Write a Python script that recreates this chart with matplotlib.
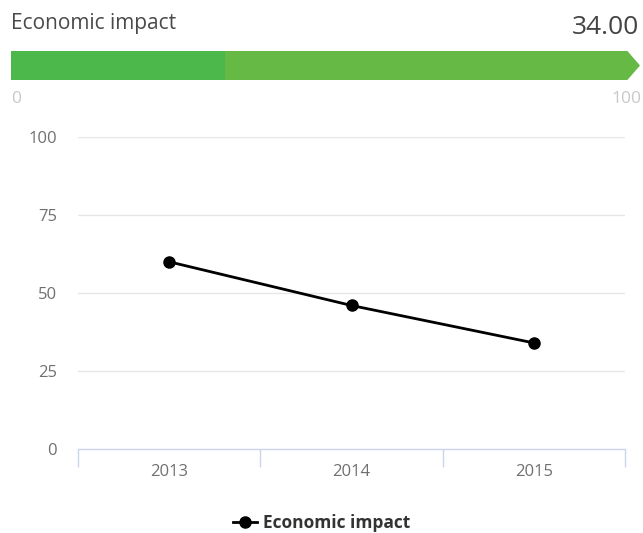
import numpy as np
import matplotlib.pyplot as plt
from matplotlib.patches import Polygon, Rectangle

plt.rcParams['font.family'] = ['Open Sans', 'DejaVu Sans']

# Gauge values
gauge_title = 'Economic impact'
gauge_value = 34.00
gauge_min, gauge_max = 0, 100

# Line series
years = ['2013', '2014', '2015']
impact = [60, 46, 34]
y_ticks = [0, 25, 50, 75, 100]

W, H = 643, 533
fig = plt.figure(figsize=(W / 100, H / 100), dpi=100)


def px_axes(x0, y0, x1, y1):
    # axes from pixel box (top-left origin)
    return fig.add_axes([x0 / W, 1 - y1 / H, (x1 - x0) / W, (y1 - y0) / H])


# --- gauge bar ---
gx = px_axes(11, 51, 640, 80)
gx.set_xlim(gauge_min, gauge_max)
gx.set_ylim(0, 1)
gx.axis('off')
tip = 2.0  # arrow head length in data units
gx.add_patch(Polygon([(gauge_value, 0), (gauge_max - tip, 0), (gauge_max, 0.5),
                      (gauge_max - tip, 1), (gauge_value, 1)],
                     closed=True, facecolor='#67b946', edgecolor='none'))
gx.add_patch(Rectangle((gauge_min, 0), gauge_value - gauge_min, 1,
                       facecolor='#4cb74a', edgecolor='none'))

fig.text(11 / W, 1 - 23 / H, gauge_title, fontsize=15, color='#4a4a4a',
         ha='left', va='center')
fig.text(639 / W, 1 - 28 / H, f'{gauge_value:.2f}', fontsize=19, color='#444444',
         ha='right', va='center')
fig.text(11 / W, 1 - 99 / H, str(gauge_min), fontsize=12.5, color='#c8c8c8',
         ha='left', va='center')
fig.text(641 / W, 1 - 99 / H, str(gauge_max), fontsize=12.5, color='#c8c8c8',
         ha='right', va='center')

# --- line chart ---
ax = px_axes(78, 137, 625, 449)
x = np.arange(len(years))
ax.plot(x, impact, color='black', linewidth=2, marker='o', markersize=8,
        label='Economic impact', zorder=3, clip_on=False)
ax.set_xlim(-0.5, len(years) - 0.5)
ax.set_ylim(y_ticks[0], y_ticks[-1])

for v in y_ticks[1:]:
    ax.axhline(v, color='#e6e6e6', linewidth=1, zorder=1)

for s in ['top', 'left', 'right']:
    ax.spines[s].set_visible(False)
ax.spines['bottom'].set_color('#ccd6eb')
ax.spines['bottom'].set_linewidth(1)

ax.set_yticks(y_ticks)
ax.set_yticklabels([str(v) for v in y_ticks], fontsize=12, color='#707070')
ax.tick_params(axis='y', length=0, pad=15)

ax.set_xticks(np.arange(-0.5, len(years)), labels=[''] * (len(years) + 1))
ax.tick_params(axis='x', which='major', length=13, color='#ccd6eb', width=1)
ax.set_xticks(x, labels=years, minor=True)
ax.tick_params(axis='x', which='minor', length=0, pad=11, labelsize=12,
               labelcolor='#707070')

leg = fig.legend(*ax.get_legend_handles_labels(), loc='center',
                 bbox_to_anchor=(0.5, 1 - 523 / H), frameon=False,
                 handlelength=1.4, handletextpad=0.3, prop={'size': 12.5, 'weight': 'bold'})
for t in leg.get_texts():
    t.set_color('#333333')

fig.savefig('out.png', dpi=100)
